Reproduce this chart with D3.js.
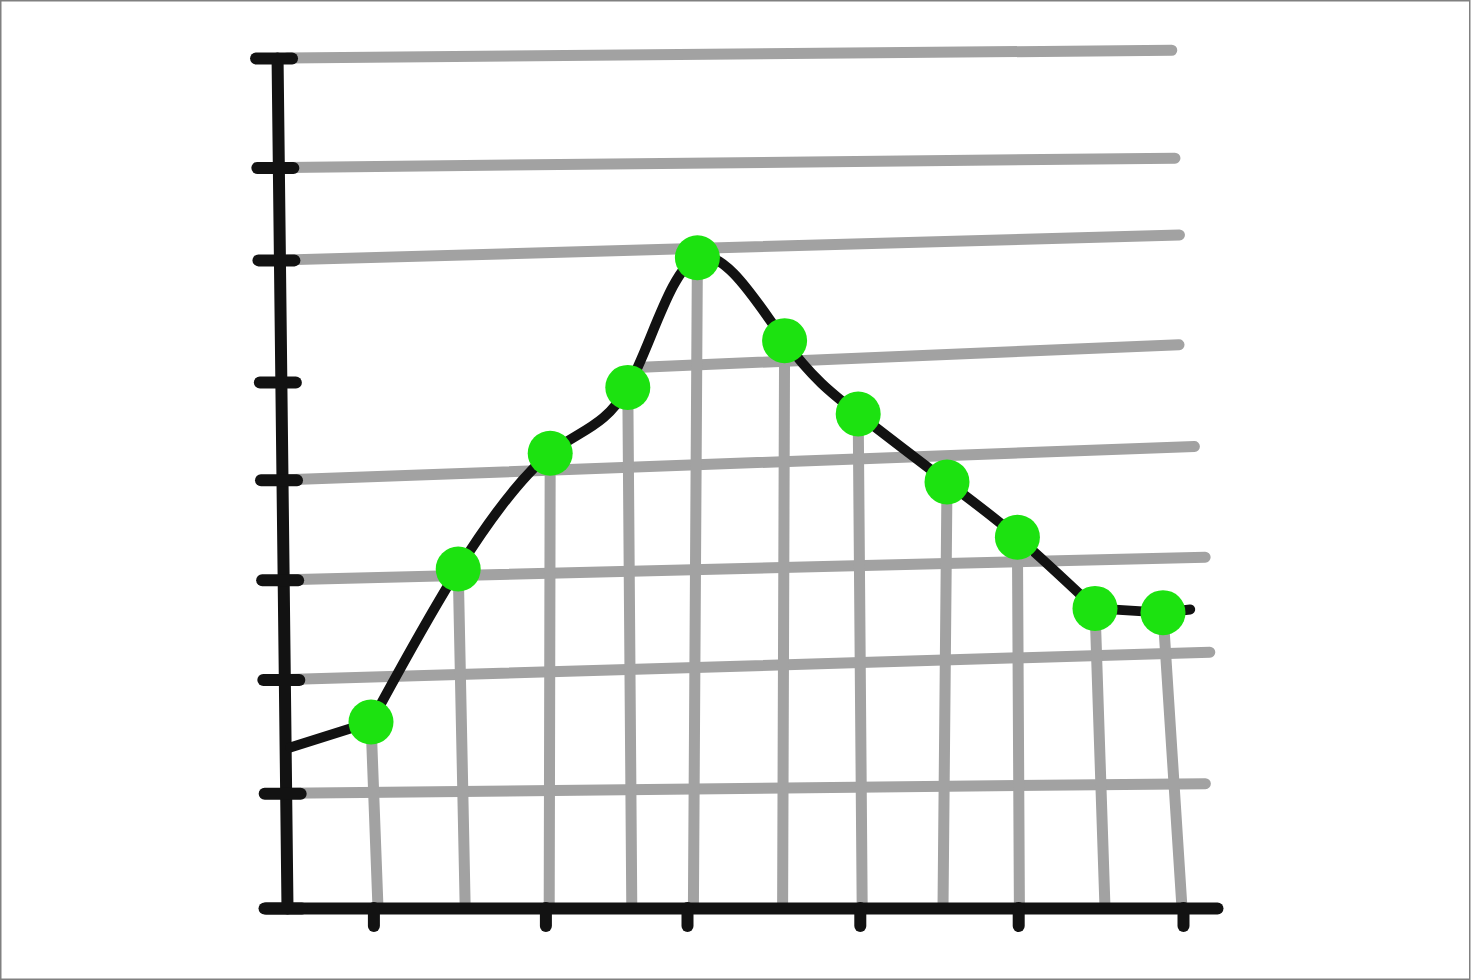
<!DOCTYPE html>
<html>
<head>
<meta charset="utf-8">
<script src="https://cdn.jsdelivr.net/npm/d3@7"></script>
<style>
  html, body { margin: 0; padding: 0; background: #fff; }
  svg { display: block; }
</style>
</head>
<body>
<svg id="chart" width="1472" height="980"></svg>
<script>
// ---------- data ----------
const xValues = [1.05, 2.14, 3.29, 4.26, 5.13, 6.22, 7.14, 8.25, 9.13, 10.10, 10.95];
const yValues = [1.75, 3.19, 4.28, 4.90, 6.12, 5.34, 4.65, 4.01, 3.49, 2.82, 2.78];
const lineStart = { x: 0.04, y: 1.51 };   // curve starts on the y axis
const lineEnd   = { x: 11.29, y: 2.81 };  // curve runs a bit past the last dot
const yTickValues = [0, 1.08, 2.15, 3.09, 4.03, 4.95, 6.10, 6.97, 8];
const xTickValues = [1.08, 3.23, 5.0, 7.16, 9.14, 11.2];
const gridValues = yTickValues.slice(1);

// ---------- hand-drawn styling (not data) ----------
const gridTiltDeg = [0.6, 1.7, 1.4, 2.1, 2.4, 1.6, 0.6, 0.5];     // bottom -> top
const gridEndX    = [11.48, 11.54, 11.48, 11.35, 11.16, 11.16, 11.1, 11.06];
const gridStartX  = [0, 0, 0, 0, 4.44, 0, 0, 0];
const verticalLeanPx = [7, 7, -1, 4, -4, -2, 4, -4, 2, 10, 19];

const GRAY = "#a2a2a2", INK = "#121212", GREEN = "#1ce210";

const svg = d3.select("#chart");
svg.append("rect").attr("x", 0.75).attr("y", 0.75).attr("width", 1469).attr("height", 978.5)
  .attr("fill", "#fff").attr("stroke", "#808080").attr("stroke-width", 1.5);

const x = d3.scaleLinear().domain([-0.2875, 11.625]).range([264, 1217]);
const y = d3.scaleLinear().domain([0, 8]).range([908, 58]);

const points = xValues.map((v, i) => ({ x: v, y: yValues[i] }));

// ---------- grid ----------
const grid = svg.append("g").attr("stroke", GRAY).attr("stroke-width", 11).attr("stroke-linecap", "round");

grid.selectAll("line.h").data(gridValues).join("line")
  .attr("class", "h")
  .attr("x1", (d, i) => x(gridStartX[i]))
  .attr("x2", (d, i) => x(gridEndX[i]))
  .attr("y1", d => y(d)).attr("y2", d => y(d))
  .attr("transform", (d, i) => `rotate(${-gridTiltDeg[i]}, ${x(0)}, ${y(d)})`);

grid.selectAll("line.v").data(points).join("line")
  .attr("class", "v")
  .attr("x1", d => x(d.x)).attr("y1", d => y(d.y))
  .attr("x2", (d, i) => x(d.x) + verticalLeanPx[i]).attr("y2", y(0));

// ---------- axes ----------
const xAxis = svg.append("g")
  .attr("transform", `translate(0, ${y(0)})`)
  .call(d3.axisBottom(x).tickValues(xTickValues).tickSizeInner(18).tickSizeOuter(0).tickFormat(""));
xAxis.select(".domain").attr("stroke", INK).attr("stroke-width", 12).attr("stroke-linecap", "round");
xAxis.selectAll(".tick line").attr("stroke", INK).attr("stroke-width", 12).attr("stroke-linecap", "round")
  .attr("y1", 0);

const yAxis = svg.append("g")
  .attr("transform", `translate(${x(0)}, ${y(0)}) skewX(0.67) translate(0, ${-y(0)})`)
  .call(d3.axisLeft(y).tickValues(yTickValues).tickSizeOuter(0).tickFormat(""));
yAxis.select(".domain").attr("stroke", INK).attr("stroke-width", 12).attr("stroke-linecap", "round");
yAxis.selectAll(".tick line").attr("stroke", INK).attr("stroke-width", 12).attr("stroke-linecap", "round")
  .attr("x1", 15).attr("x2", -21);

// ---------- curve (straight lead-in, smooth middle, straight tail) ----------
const n = points.length;
const pieces = [
  { pts: [lineStart, points[0]], curve: d3.curveLinear },
  { pts: points.slice(0, n - 1), curve: d3.curveNatural },
  { pts: [points[n - 2], points[n - 1], lineEnd], curve: d3.curveLinear }
];
svg.append("g").selectAll("path").data(pieces).join("path")
  .attr("fill", "none").attr("stroke", INK).attr("stroke-width", 10)
  .attr("stroke-linecap", "round").attr("stroke-linejoin", "round")
  .attr("d", p => d3.line().x(d => x(d.x)).y(d => y(d.y)).curve(p.curve)(p.pts));

// ---------- dots ----------
svg.append("g").selectAll("circle").data(points).join("circle")
  .attr("cx", d => x(d.x)).attr("cy", d => y(d.y)).attr("r", 22.5)
  .attr("fill", GREEN);
</script>
</body>
</html>
